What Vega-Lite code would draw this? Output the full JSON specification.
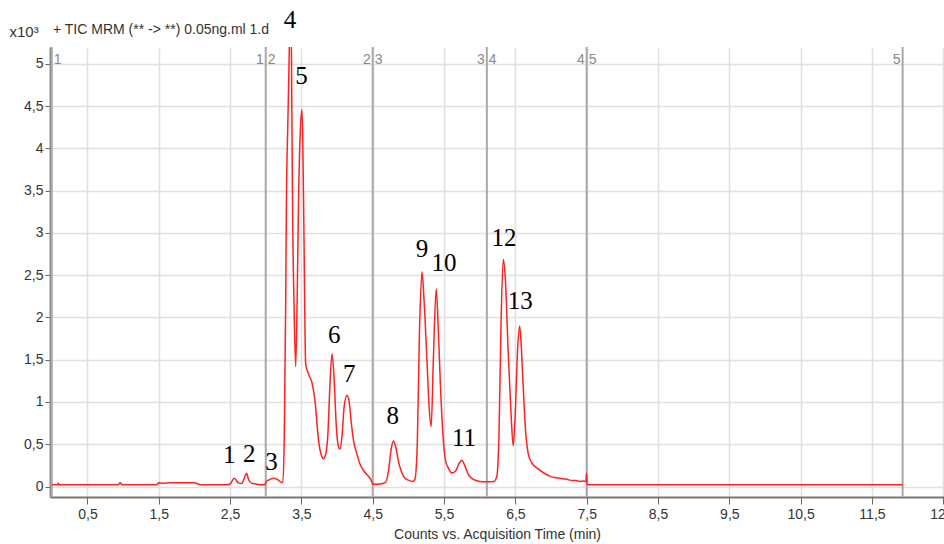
{
  "$schema": "https://vega.github.io/schema/vega-lite/v6.json",
  "width": 894,
  "height": 450,
  "autosize": {"type": "none"},
  "padding": {"left": 50, "top": 47, "right": 0, "bottom": 47},
  "background": "white",
  "config": {"view": {"stroke": null}},
  "title": {"text": "+ TIC MRM (** -> **) 0.05ng.ml 1.d", "anchor": "start", "frame": "group", "offset": -29, "dx": 3, "fontSize": 14, "fontWeight": "normal", "font": "Liberation Sans Narrow, Liberation Sans, sans-serif", "color": "#333333"},
  "datasets": {
    "tic": [
      {"t": 0.00, "v": 0.02}, {"t": 0.08, "v": 0.02}, {"t": 0.09, "v": 0.04}, {"t": 0.10, "v": 0.02},
      {"t": 0.93, "v": 0.02}, {"t": 0.96, "v": 0.045}, {"t": 0.99, "v": 0.02},
      {"t": 1.47, "v": 0.02}, {"t": 1.50, "v": 0.045}, {"t": 1.55, "v": 0.04}, {"t": 1.65, "v": 0.045},
      {"t": 1.80, "v": 0.045}, {"t": 2.00, "v": 0.045}, {"t": 2.05, "v": 0.03}, {"t": 2.10, "v": 0.02},
      {"t": 2.45, "v": 0.02}, {"t": 2.50, "v": 0.03}, {"t": 2.56, "v": 0.097}, {"t": 2.62, "v": 0.04},
      {"t": 2.66, "v": 0.035}, {"t": 2.70, "v": 0.10}, {"t": 2.73, "v": 0.156}, {"t": 2.76, "v": 0.08},
      {"t": 2.80, "v": 0.04}, {"t": 2.86, "v": 0.03}, {"t": 2.95, "v": 0.02}, {"t": 2.99, "v": 0.02},
      {"t": 3.00, "v": 0.05}, {"t": 3.05, "v": 0.08}, {"t": 3.11, "v": 0.097}, {"t": 3.17, "v": 0.08},
      {"t": 3.22, "v": 0.05}, {"t": 3.24, "v": 0.05}, {"t": 3.26, "v": 0.6}, {"t": 3.28, "v": 2.2},
      {"t": 3.29, "v": 3.39}, {"t": 3.31, "v": 4.3}, {"t": 3.33, "v": 5.17}, {"t": 3.345, "v": 6.0},
      {"t": 3.36, "v": 5.17}, {"t": 3.375, "v": 3.39}, {"t": 3.40, "v": 2.0}, {"t": 3.42, "v": 1.42},
      {"t": 3.44, "v": 2.2}, {"t": 3.46, "v": 3.39}, {"t": 3.49, "v": 4.3}, {"t": 3.51, "v": 4.46},
      {"t": 3.53, "v": 3.39}, {"t": 3.56, "v": 1.45}, {"t": 3.60, "v": 1.33}, {"t": 3.65, "v": 1.22},
      {"t": 3.69, "v": 1.02}, {"t": 3.74, "v": 0.55}, {"t": 3.78, "v": 0.37}, {"t": 3.81, "v": 0.33},
      {"t": 3.84, "v": 0.38}, {"t": 3.87, "v": 0.6}, {"t": 3.90, "v": 1.2}, {"t": 3.93, "v": 1.57},
      {"t": 3.96, "v": 1.25}, {"t": 3.99, "v": 0.7}, {"t": 4.02, "v": 0.47}, {"t": 4.04, "v": 0.44},
      {"t": 4.07, "v": 0.6}, {"t": 4.10, "v": 0.95}, {"t": 4.14, "v": 1.08}, {"t": 4.17, "v": 1.0},
      {"t": 4.20, "v": 0.75}, {"t": 4.23, "v": 0.55}, {"t": 4.28, "v": 0.38}, {"t": 4.32, "v": 0.27},
      {"t": 4.37, "v": 0.19}, {"t": 4.42, "v": 0.14}, {"t": 4.46, "v": 0.10}, {"t": 4.49, "v": 0.05},
      {"t": 4.50, "v": 0.026}, {"t": 4.60, "v": 0.03}, {"t": 4.68, "v": 0.05}, {"t": 4.72, "v": 0.18},
      {"t": 4.76, "v": 0.45}, {"t": 4.79, "v": 0.54}, {"t": 4.82, "v": 0.48}, {"t": 4.86, "v": 0.3},
      {"t": 4.90, "v": 0.18}, {"t": 4.95, "v": 0.1}, {"t": 5.00, "v": 0.075}, {"t": 5.06, "v": 0.06},
      {"t": 5.09, "v": 0.08}, {"t": 5.12, "v": 0.39}, {"t": 5.16, "v": 1.97}, {"t": 5.19, "v": 2.54},
      {"t": 5.22, "v": 2.2}, {"t": 5.26, "v": 1.5}, {"t": 5.29, "v": 0.95}, {"t": 5.32, "v": 0.71},
      {"t": 5.35, "v": 1.5}, {"t": 5.39, "v": 2.34}, {"t": 5.42, "v": 1.85}, {"t": 5.45, "v": 1.18},
      {"t": 5.49, "v": 0.55}, {"t": 5.52, "v": 0.31}, {"t": 5.56, "v": 0.22}, {"t": 5.61, "v": 0.16},
      {"t": 5.66, "v": 0.18}, {"t": 5.71, "v": 0.27}, {"t": 5.75, "v": 0.31}, {"t": 5.79, "v": 0.25},
      {"t": 5.84, "v": 0.14}, {"t": 5.90, "v": 0.09}, {"t": 6.00, "v": 0.06}, {"t": 6.10, "v": 0.055},
      {"t": 6.20, "v": 0.06}, {"t": 6.24, "v": 0.12}, {"t": 6.27, "v": 0.6}, {"t": 6.30, "v": 1.97},
      {"t": 6.33, "v": 2.69}, {"t": 6.36, "v": 2.45}, {"t": 6.40, "v": 1.58}, {"t": 6.44, "v": 0.85},
      {"t": 6.47, "v": 0.48}, {"t": 6.50, "v": 0.9}, {"t": 6.53, "v": 1.6}, {"t": 6.56, "v": 1.90},
      {"t": 6.58, "v": 1.7}, {"t": 6.61, "v": 1.18}, {"t": 6.64, "v": 0.7}, {"t": 6.68, "v": 0.39},
      {"t": 6.73, "v": 0.28}, {"t": 6.80, "v": 0.22}, {"t": 6.90, "v": 0.16}, {"t": 6.99, "v": 0.12},
      {"t": 7.10, "v": 0.1}, {"t": 7.22, "v": 0.085}, {"t": 7.30, "v": 0.07}, {"t": 7.35, "v": 0.07},
      {"t": 7.41, "v": 0.06}, {"t": 7.45, "v": 0.065}, {"t": 7.49, "v": 0.06}, {"t": 7.499, "v": 0.16},
      {"t": 7.505, "v": 0.02}, {"t": 11.93, "v": 0.02}
    ],
    "peaks": [
      {"t": 2.49, "v": 0.37, "label": "1"}, {"t": 2.77, "v": 0.38, "label": "2"},
      {"t": 3.08, "v": 0.29, "label": "3"}, {"t": 3.34, "v": 5.52, "label": "4"},
      {"t": 3.50, "v": 4.86, "label": "5"}, {"t": 3.96, "v": 1.79, "label": "6"},
      {"t": 4.17, "v": 1.33, "label": "7"}, {"t": 4.78, "v": 0.83, "label": "8"},
      {"t": 5.19, "v": 2.81, "label": "9"}, {"t": 5.50, "v": 2.65, "label": "10"},
      {"t": 5.78, "v": 0.57, "label": "11"}, {"t": 6.34, "v": 2.94, "label": "12"},
      {"t": 6.57, "v": 2.19, "label": "13"}
    ],
    "segments": [
      {"t": 0, "left": "", "right": "1"}, {"t": 3.0, "left": "1", "right": "2"},
      {"t": 4.5, "left": "2", "right": "3"}, {"t": 6.1, "left": "3", "right": "4"},
      {"t": 7.5, "left": "4", "right": "5"}, {"t": 11.93, "left": "5", "right": ""}
    ]
  },
  "layer": [
    {
      "data": {"name": "segments"},
      "mark": {"type": "rule", "color": "#a8a8a8", "strokeWidth": 2},
      "encoding": {"x": {"field": "t", "type": "quantitative"}}
    },
    {
      "data": {"name": "tic"},
      "mark": {"type": "line", "color": "#ff2222", "strokeWidth": 1.5, "interpolate": "monotone", "clip": true},
      "encoding": {
        "x": {
          "field": "t", "type": "quantitative",
          "scale": {"domain": [-0.025, 12.51], "nice": false, "zero": false},
          "axis": {
            "values": [0.5, 1, 1.5, 2, 2.5, 3, 3.5, 4, 4.5, 5, 5.5, 6, 6.5, 7, 7.5, 8, 8.5, 9, 9.5, 10, 10.5, 11, 11.5, 12, 12.5],
            "format": ".1~f", "labelExpr": "replace(datum.label, '.', ',')",
            "title": "Counts vs. Acquisition Time (min)",
            "grid": true, "gridColor": "#e0e0e0", "gridWidth": 1.5,
            "domainColor": "#777777", "domainWidth": 2,
            "tickColor": "#666666", "tickSize": 7, "labelPadding": 3,
            "labelFont": "Liberation Sans Narrow, Liberation Sans, sans-serif", "labelFontSize": 14, "labelColor": "#333333",
            "labelOverlap": false, "labelFlush": false, "labelBound": false,
            "titleFont": "Liberation Sans Narrow, Liberation Sans, sans-serif", "titleFontSize": 14, "titleFontWeight": "normal", "titleColor": "#333333", "titlePadding": 6
          }
        },
        "y": {
          "field": "v", "type": "quantitative",
          "scale": {"domain": [-0.124, 5.2], "nice": false, "zero": false},
          "axis": {
            "values": [0, 0.5, 1, 1.5, 2, 2.5, 3, 3.5, 4, 4.5, 5],
            "format": ".1~f", "labelExpr": "replace(datum.label, '.', ',')",
            "title": "x10³", "titleAngle": 0, "titleAlign": "left", "titleBaseline": "middle", "titleX": -41, "titleY": -16,
            "grid": true, "gridColor": "#e0e0e0", "gridWidth": 1.5,
            "domainColor": "#888888", "domainWidth": 2,
            "tickColor": "#666666", "tickSize": 5, "labelPadding": 2,
            "labelFont": "Liberation Sans Narrow, Liberation Sans, sans-serif", "labelFontSize": 14, "labelColor": "#333333",
            "titleFont": "Liberation Sans Narrow, Liberation Sans, sans-serif", "titleFontSize": 15, "titleFontWeight": "normal", "titleColor": "#333333"
          }
        }
      }
    },
    {
      "data": {"name": "segments"},
      "mark": {"type": "text", "align": "left", "baseline": "middle", "dx": 2, "color": "#888888", "fontSize": 14, "font": "Liberation Sans Narrow, Liberation Sans, sans-serif"},
      "encoding": {
        "x": {"field": "t", "type": "quantitative"},
        "y": {"datum": 5.05},
        "text": {"field": "right"}
      }
    },
    {
      "data": {"name": "segments"},
      "mark": {"type": "text", "align": "right", "baseline": "middle", "dx": -2, "color": "#888888", "fontSize": 14, "font": "Liberation Sans Narrow, Liberation Sans, sans-serif"},
      "encoding": {
        "x": {"field": "t", "type": "quantitative"},
        "y": {"datum": 5.05},
        "text": {"field": "left"}
      }
    },
    {
      "data": {"name": "peaks"},
      "mark": {"type": "text", "align": "center", "baseline": "middle", "color": "black", "fontSize": 25, "font": "Liberation Serif, DejaVu Serif, serif"},
      "encoding": {
        "x": {"field": "t", "type": "quantitative"},
        "y": {"field": "v", "type": "quantitative"},
        "text": {"field": "label"}
      }
    }
  ]
}
